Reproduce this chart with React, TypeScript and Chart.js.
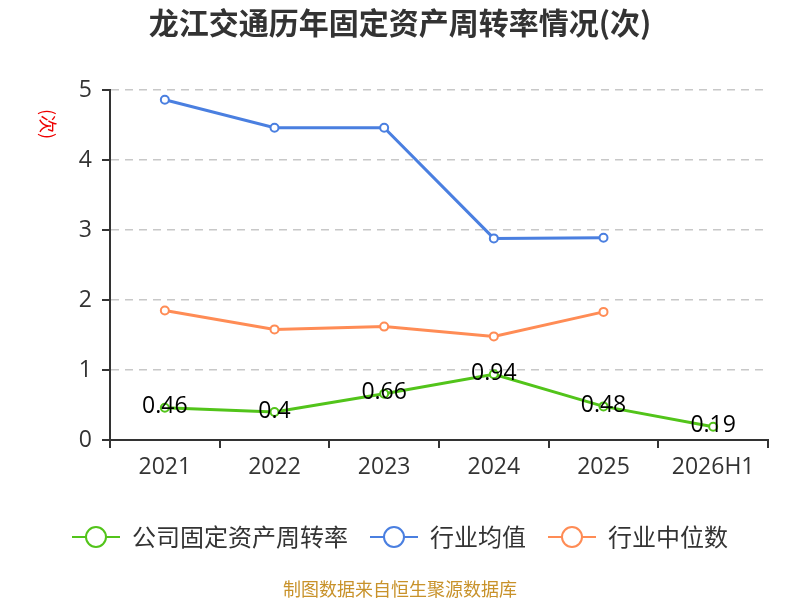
import React, { useRef, useEffect } from 'react'
import { Chart, registerables } from 'chart.js'

Chart.register(...registerables)

const categories = ['2021', '2022', '2023', '2024', '2025', '2026H1']
const companyValues = [0.46, 0.4, 0.66, 0.94, 0.48, 0.19]
const industryAvg = [4.86, 4.46, 4.46, 2.88, 2.89, null]
const industryMedian = [1.85, 1.58, 1.62, 1.48, 1.83, null]
const yTicks = [0, 1, 2, 3, 4, 5]

const seriesNames = ['公司固定资产周转率', '行业均值', '行业中位数']
const colors = ['#52c41a', '#4a7fe0', '#ff8c55']

const FONT = '"Open Sans", "Noto Sans CJK SC", sans-serif'
const CJK = '"Noto Sans CJK SC", "Noto Sans", sans-serif'

const decorPlugin = {
  id: 'decor',
  afterDatasetsDraw(chart: any) {
    const ctx = chart.ctx as CanvasRenderingContext2D
    // data labels for the company series
    const meta = chart.getDatasetMeta(0)
    ctx.save()
    ctx.font = `23px ${FONT}`
    ctx.fillStyle = '#000'
    ctx.textAlign = 'center'
    ctx.textBaseline = 'middle'
    meta.data.forEach((pt: any, i: number) => {
      ctx.fillText(String(companyValues[i]), pt.x, pt.y - 1)
    })
    ctx.restore()
  },
  afterDraw(chart: any) {
    const ctx = chart.ctx as CanvasRenderingContext2D
    const w = chart.width
    ctx.save()
    // title
    ctx.font = `bold 30px ${CJK}`
    ctx.fillStyle = '#333'
    ctx.textAlign = 'center'
    ctx.textBaseline = 'middle'
    ctx.fillText('龙江交通历年固定资产周转率情况(次)', w / 2, 23)

    // y unit
    ctx.save()
    ctx.translate(48, 124)
    ctx.rotate(Math.PI / 2)
    ctx.font = `18px ${CJK}`
    ctx.fillStyle = '#e00'
    ctx.fillText('(次)', 0, 0)
    ctx.restore()

    // legend
    ctx.font = `24px ${CJK}`
    const sym = 48
    const gap = 12
    const itemGap = 22
    const widths = seriesNames.map((n) => sym + gap + ctx.measureText(n).width)
    const total = widths.reduce((a, b) => a + b, 0) + itemGap * (widths.length - 1)
    let x = w / 2 - total / 2
    const ly = 537
    seriesNames.forEach((name, i) => {
      ctx.strokeStyle = colors[i]
      ctx.lineWidth = 2
      ctx.beginPath()
      ctx.moveTo(x, ly)
      ctx.lineTo(x + sym, ly)
      ctx.stroke()
      ctx.beginPath()
      ctx.arc(x + sym / 2, ly, 10, 0, Math.PI * 2)
      ctx.fillStyle = '#fff'
      ctx.fill()
      ctx.stroke()
      ctx.fillStyle = '#333'
      ctx.textAlign = 'left'
      ctx.fillText(name, x + sym + gap, ly)
      x += widths[i] + itemGap
    })

    // footer
    ctx.font = `18px ${CJK}`
    ctx.fillStyle = '#c8922a'
    ctx.textAlign = 'center'
    ctx.fillText('制图数据来自恒生聚源数据库', w / 2, 589)
    ctx.restore()
  },
}

const makeSet = (label: string, data: (number | null)[], color: string) => ({
  label,
  data,
  borderColor: color,
  backgroundColor: color,
  borderWidth: 3,
  pointRadius: 4,
  pointBorderWidth: 2,
  pointBackgroundColor: '#fff',
  pointBorderColor: color,
  tension: 0,
  spanGaps: false,
})

export default function App() {
  const chartRef = useRef<HTMLCanvasElement>(null)

  useEffect(() => {
    document.body.style.margin = '0'
    if (!chartRef.current) return
    const ctx = chartRef.current.getContext('2d')
    if (!ctx) return
    const chart = new Chart(ctx, {
      type: 'line',
      data: {
        labels: categories,
        datasets: [
          makeSet(seriesNames[0], companyValues, colors[0]),
          makeSet(seriesNames[1], industryAvg, colors[1]),
          makeSet(seriesNames[2], industryMedian, colors[2]),
        ],
      },
      options: {
        responsive: false,
        animation: false,
        devicePixelRatio: 1,
        layout: { padding: { left: 0, top: 90, right: 32, bottom: 0 } },
        plugins: {
          legend: { display: false },
          title: { display: false },
          tooltip: { enabled: false },
        },
        scales: {
          x: {
            offset: true,
            grid: {
              offset: true,
              drawOnChartArea: false,
              drawTicks: true,
              tickLength: 8,
              color: '#333',
              lineWidth: 2,
            },
            border: { color: '#333', width: 2 },
            ticks: {
              color: '#333',
              font: { size: 23, family: FONT },
              padding: 6,
            },
            afterFit(scale: any) {
              scale.height = 160
            },
          },
          y: {
            min: yTicks[0],
            max: yTicks[yTicks.length - 1],
            afterBuildTicks(scale: any) {
              scale.ticks = yTicks.map((v) => ({ value: v }))
            },
            grid: {
              color: (c: any) => (c.tick && c.tick.value === 0 ? 'rgba(0,0,0,0)' : '#c8c8c8'),
              lineWidth: 1.5,
              drawTicks: false,
              tickLength: 8,
            },
            border: { color: '#333', width: 2, dash: [8, 6] },
            ticks: {
              color: '#333',
              font: { size: 23, family: FONT },
              padding: 18,
            },
            afterFit(scale: any) {
              scale.width = 110
            },
          },
        },
      },
      plugins: [
        decorPlugin,
        {
          id: 'yTickMarks',
          afterDraw(c: any) {
            const y = c.scales.y
            const g = c.ctx as CanvasRenderingContext2D
            g.save()
            g.strokeStyle = '#333'
            g.lineWidth = 2
            y.ticks.forEach((t: any) => {
              const py = y.getPixelForValue(t.value)
              g.beginPath()
              g.moveTo(y.right - 8, py)
              g.lineTo(y.right, py)
              g.stroke()
            })
            g.restore()
          },
        },
      ],
    })
    return () => {
      chart.destroy()
    }
  }, [])

  return (
    <div style={{ width: 800, height: 600 }}>
      <canvas ref={chartRef} width={800} height={600}></canvas>
    </div>
  )
}
